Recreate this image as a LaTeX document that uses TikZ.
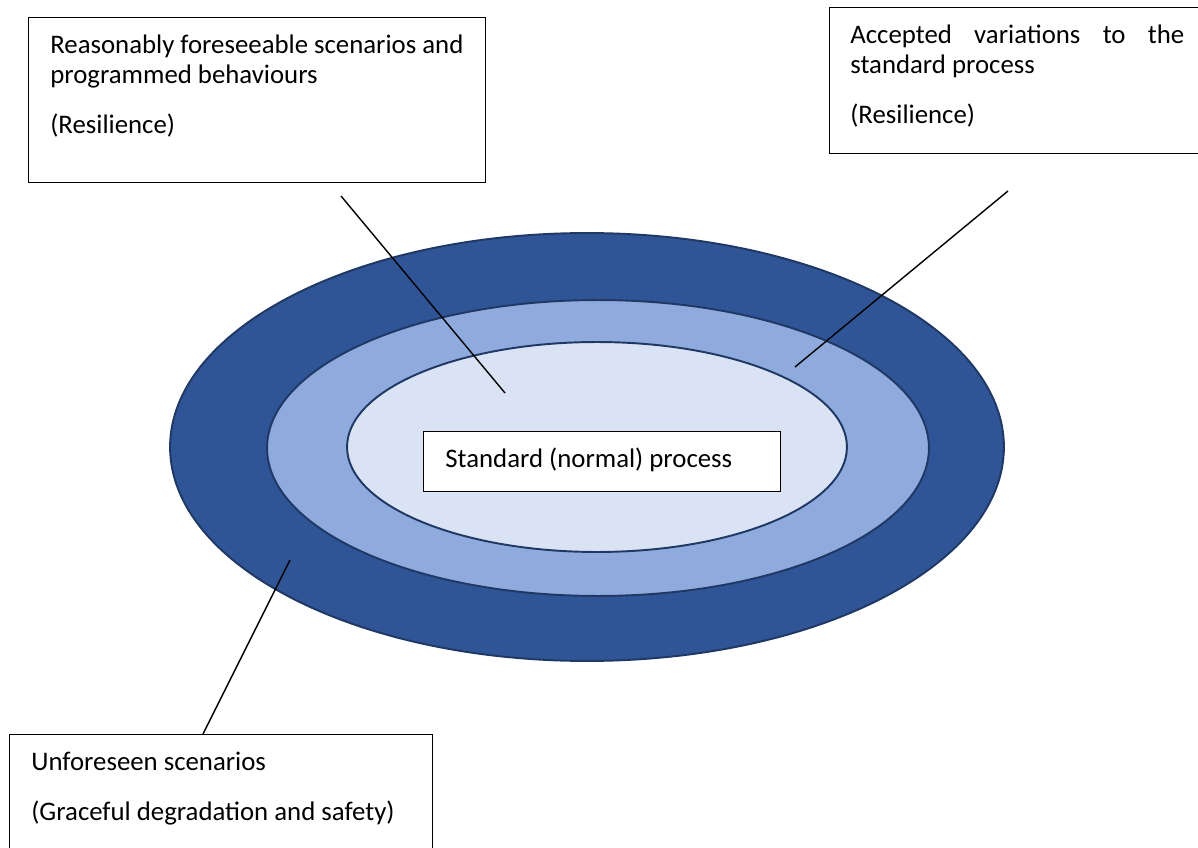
\documentclass[tikz,border=0pt]{standalone}
\usepackage{fontspec}
\setmainfont{Carlito}
\usetikzlibrary{shapes.geometric}
\definecolor{ringdark}{HTML}{2F5597}
\definecolor{ringmid}{HTML}{8FAADC}
\definecolor{ringlight}{HTML}{DAE3F3}
\definecolor{ringline}{HTML}{1F3864}

\begin{document}
\begin{tikzpicture}[x=0.02cm, y=-0.02cm,
      ring/.style={ellipse, draw=ringline, line width=1.1pt, inner sep=0pt},
      box/.style={rectangle, draw, line width=0.8pt, fill=white, anchor=north west, inner sep=0pt},
      txt/.style={anchor=base west, inner sep=0pt, align=flush left, text width=8.6cm, font=\fontsize{15.25}{17.1}\selectfont},
      link/.style={line width=0.8pt}
  ]
  \useasboundingbox (0,0) rectangle (1198,848);
  \clip (0,0) rectangle (1198,848);

  % Rings
  \node[ring, fill=ringdark, minimum width=16.68cm, minimum height=8.56cm] (outer) at (587,447) {};
  \node[ring, fill=ringmid, minimum width=13.24cm, minimum height=5.92cm] (middle) at (598,448) {};
  \node[ring, fill=ringlight, minimum width=10cm, minimum height=4.2cm] (inner) at (597,447) {};

  % Boxes
  \node[box, minimum width=9.14cm, minimum height=3.3cm] (reas) at (28,17) {};
  \node[box, minimum width=7.72cm, minimum height=2.92cm] (acc) at (829,7) {};
  \node[box, minimum width=8.46cm, minimum height=2.8cm] (unf) at (9,734) {};
  \node[box, minimum width=7.14cm, minimum height=1.2cm] (std) at (423,431) {};

  % Texts
  \node[txt] (reas-t) at ([shift={(22,36.5)}]reas.north west) {Reasonably foreseeable scenarios and\\programmed behaviours\\[11.4pt](Resilience)};
  \node[txt, text width=6.68cm, align=justify] (acc-t) at ([shift={(21,36.5)}]acc.north west) {Accepted variations to the\linebreak standard process\\[11.4pt](Resilience)};
  \node[txt, text width=7.9cm] (unf-t) at ([shift={(22,36.5)}]unf.north west) {Unforeseen scenarios\\[11.4pt](Graceful degradation and safety)};
  \node[txt, text width=6.5cm] (std-t) at ([shift={(22,36.5)}]std.north west) {Standard (normal) process};

  % Lines
  \coordinate (a1) at (341,196);
  \coordinate (b1) at (505,393);
  \coordinate (a2) at (1008,191);
  \coordinate (b2) at (795,367);
  \coordinate (a3) at (290,560);
  \coordinate (b3) at (203,734);
  \draw[link] (a1) -- (b1);
  \draw[link] (a2) -- (b2);
  \draw[link] (a3) -- (b3);

\end{tikzpicture}
\end{document}
